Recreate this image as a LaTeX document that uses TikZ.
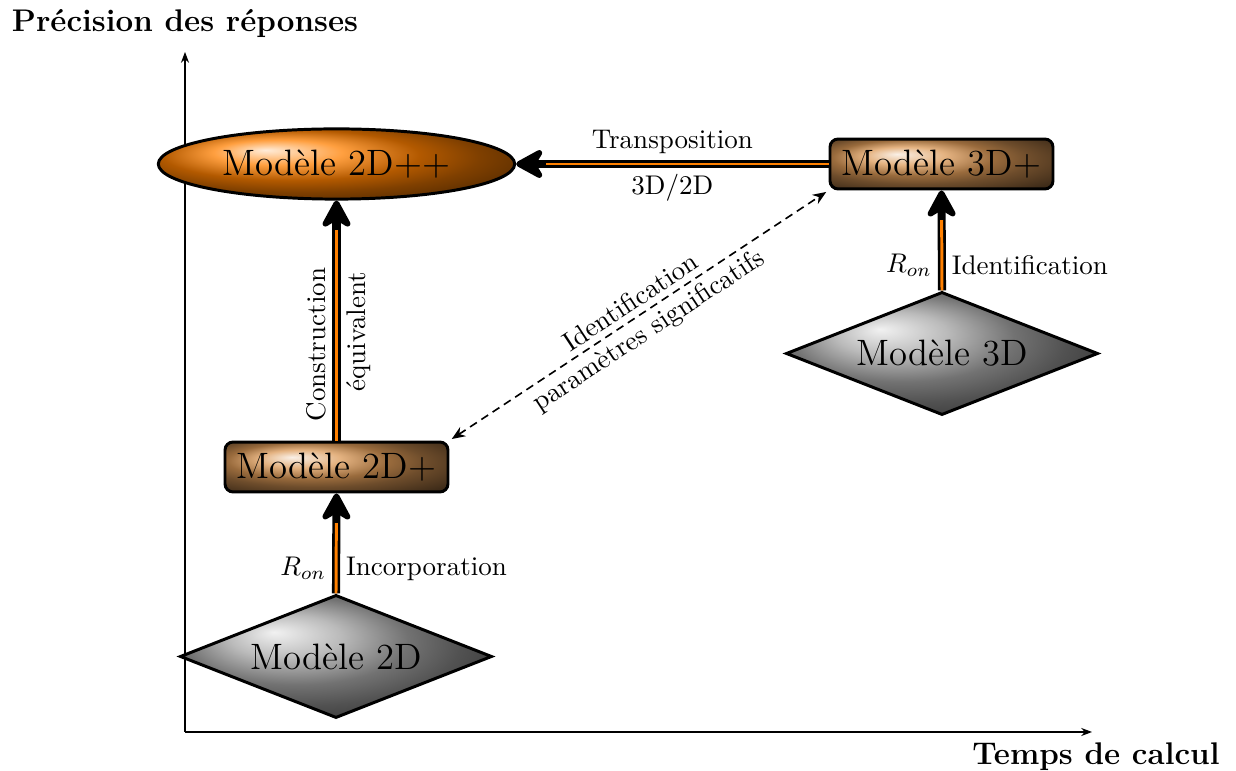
\documentclass[tikz,border=0pt]{standalone}
\usepackage{fontspec}
\usetikzlibrary{shapes.geometric,arrows.meta,shadings}
\definecolor{rectcol}{rgb}{0.86,0.6,0.34}
\definecolor{ellcol}{rgb}{1,0.5,0}
\definecolor{diacol}{gray}{0.64}
\definecolor{lineor}{rgb}{1,0.5,0}
\newcommand{\nodefont}{\fontsize{13.6}{15}\selectfont}
\newcommand{\titlefont}{\bfseries\fontsize{11.6}{13}\selectfont}
\begin{document}
\begin{tikzpicture}[x=0.37037pt,y=-0.37037pt,
  rectbox/.style={draw, line width=1.1pt, rounded corners=3pt, minimum width=82.6pt,
    minimum height=18.5pt, inner sep=1pt, shade, shading=ball, ball color=rectcol, font=\nodefont},
  ellbox/.style={ellipse, draw, line width=1.1pt, minimum width=132pt, minimum height=26pt,
    inner sep=1pt, shade, shading=ball, ball color=ellcol, font=\nodefont},
  diabox/.style={diamond, draw, line width=1.1pt, minimum width=115.6pt, minimum height=45.6pt,
    shape aspect=2.54, inner sep=1pt, shade, shading=ball, ball color=diacol, font=\nodefont},
  thickarr/.style={line width=3pt, -{Stealth[length=12.5pt,width=13.5pt,inset=4pt,round]}},
  orangein/.style={line width=1.1pt, draw=lineor, shorten >=11pt},
  dasharr/.style={line width=0.6pt, dash pattern=on 3pt off 2pt,
    {Stealth[length=5pt,width=4pt]}-{Stealth[length=5pt,width=4pt]}, shorten <=1pt, shorten >=1pt},
  axis/.style={line width=0.4pt, -{Stealth[length=4pt,width=3pt]}},
  lab/.style={font=\fontsize{10}{12}\selectfont, inner sep=2.2pt}
]
\useasboundingbox (0,0) rectangle (1236,771);

% axes
\coordinate (O) at (185,732);
\coordinate (Y) at (185,52);
\coordinate (X) at (1092,732);
\draw[axis] (O) -- (Y);
\draw[axis] (O) -- (X);
\node[font=\titlefont, anchor=base] (ty) at (185,32) {Précision des réponses};
\node[font=\titlefont, anchor=base] (tx) at (1096,765) {Temps de calcul};

% nodes
\node[ellbox] (A2pp) at (336.5,164) {Modèle 2D++};
\node[rectbox] (A3p) at (941.5,164) {Modèle 3D+};
\node[rectbox] (A2p) at (336.5,467) {Modèle 2D+};
\node[diabox] (D3) at (942,353.5) {Modèle 3D};
\node[diabox] (D2) at (336,656.5) {Modèle 2D};

% connectors
\draw[thickarr] (D2.north) -- node[lab,left,pos=0.25]{$R_{on}$} node[lab,right,pos=0.25]{Incorporation} (A2p.south);
\draw[orangein] (D2.north) -- (A2p.south);

\draw[thickarr] (A2p.north) -- node[lab,sloped,above,pos=0.40]{Construction} node[lab,sloped,below,pos=0.453]{équivalent} (A2pp.south);
\draw[orangein] (A2p.north) -- (A2pp.south);

\draw[thickarr] (D3.north) -- node[lab,left,pos=0.25]{$R_{on}$} node[lab,right,pos=0.25]{Identification} (A3p.south);
\draw[orangein] (D3.north) -- (A3p.south);

\draw[thickarr] (A3p.west) -- node[lab,above]{Transposition} node[lab,below]{3D$/$2D} (A2pp.east);
\draw[orangein] (A3p.west) -- (A2pp.east);

\draw[dasharr] (A2p.north east) -- node[lab,sloped,above]{Identification} node[lab,sloped,below]{paramètres significatifs} (A3p.south west);
\end{tikzpicture}
\end{document}
